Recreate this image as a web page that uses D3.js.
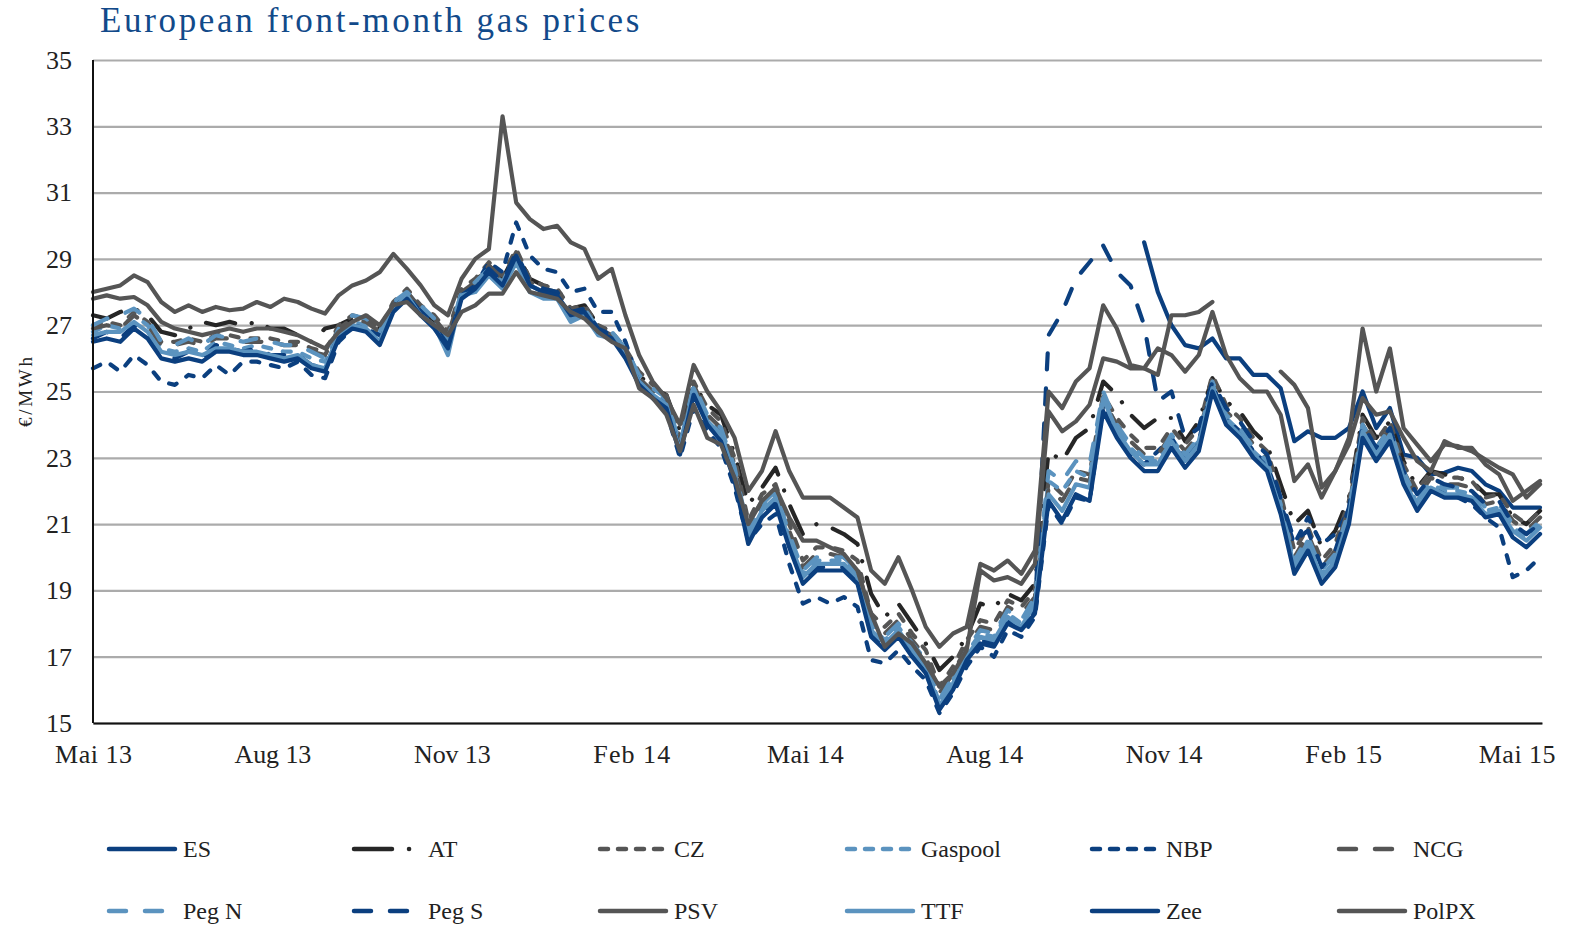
<!DOCTYPE html>
<html>
<head>
<meta charset="utf-8">
<script src="https://cdnjs.cloudflare.com/ajax/libs/d3/7.8.5/d3.min.js"></script>
<style>
  body { margin: 0; background: #fff; }
  text { font-family: "Liberation Serif", "DejaVu Serif", serif; fill: #222; }
</style>
</head>
<body>
<div id="my_dataviz"></div>
<script>
// weekly observations, first one on 1 May 2013
var firstDay = new Date(2013, 4, 1)
var lastDay = new Date(2015, 4, 14)

var tickDates = [new Date(2013,4,1), new Date(2013,7,1), new Date(2013,10,1), new Date(2014,1,1),
  new Date(2014,4,1), new Date(2014,7,1), new Date(2014,10,1), new Date(2015,1,1), new Date(2015,4,1)]
var tickLabels = ["Mai 13","Aug 13","Nov 13","Feb 14","Mai 14","Aug 14","Nov 14","Feb 15","Mai 15"]
var yTicks = [15,17,19,21,23,25,27,29,31,33,35]

var ES = [null,null,null,null,null,null,null,null,null,null,
  null,null,null,null,null,null,null,null,null,null,
  null,null,null,null,null,null,null,null,null,null,
  null,null,null,null,null,null,null,null,null,null,
  null,null,null,null,null,null,null,null,null,null,
  null,null,null,null,null,null,null,null,null,null,
  null,null,null,null,null,null,null,null,null,null,
  null,null,null,null,null,null,null,29.5,28.0,27.0,
  26.4,26.3,26.6,26.0,26.0,25.5,25.5,25.1,23.5,23.8,
  23.6,23.6,23.9,25.0,23.9,24.5,23.1,23.0,22.5,22.55,
  22.7,22.6,22.2,22.0,21.5,21.5,21.5]

var AT = [27.3,27.2,27.4,27.5,27.3,26.8,26.7,26.9,27.1,27.0,
  27.1,27.0,27.1,26.9,26.9,26.7,26.5,26.9,27.0,27.2,
  27.3,26.9,27.6,27.9,27.5,27.1,26.6,27.9,28.3,28.8,
  28.4,29.2,28.4,28.2,28.1,27.5,27.6,27.0,26.8,26.2,
  25.5,25.1,24.9,23.8,25.2,24.6,24.3,23.1,21.6,22.1,
  22.7,21.6,20.7,21.0,20.9,20.7,20.4,18.9,18.2,18.6,
  18.0,17.4,16.6,17.0,17.6,18.6,18.5,18.9,18.7,19.2,
  23.2,22.9,23.6,23.9,25.3,24.9,24.3,23.9,24.2,24.2,
  23.5,24.1,25.4,24.7,24.4,23.8,23.4,22.2,21.0,21.4,
  20.3,20.8,21.8,24.3,23.6,24.1,22.9,22.1,22.6,22.5,
  22.4,22.3,21.9,21.9,21.2,21.0,21.4]

var CZ = [27.0,27.1,27.0,27.4,27.1,26.5,26.5,26.6,26.5,26.7,
  26.7,26.6,26.6,26.6,26.5,26.5,26.3,26.2,27.0,27.3,
  27.2,26.9,27.7,28.1,27.6,27.3,26.8,28.1,28.4,28.9,
  28.5,29.3,28.4,28.2,28.1,27.5,27.6,27.0,26.8,26.3,
  25.6,25.2,24.9,23.6,25.3,24.5,24.1,23.0,21.1,21.9,
  22.2,21.0,19.9,20.3,20.3,20.2,19.9,18.3,17.9,18.3,
  17.7,17.2,16.1,16.7,17.5,18.1,18.0,18.7,18.5,19.0,
  22.3,21.9,22.6,22.5,24.9,24.2,23.7,23.3,23.3,23.9,
  23.4,23.9,25.5,24.6,24.2,23.6,23.2,21.9,20.2,20.9,
  19.9,20.4,21.7,24.2,23.5,24.1,22.8,22.0,22.6,22.4,
  22.4,22.3,21.8,21.9,21.3,21.0,21.4]

var Gaspool = [26.8,27.0,26.9,27.3,27.0,26.3,26.2,26.3,26.2,26.5,
  26.4,26.3,26.4,26.3,26.2,26.2,26.0,25.9,26.8,27.1,
  27.0,26.7,27.6,28.0,27.5,27.1,26.5,28.0,28.2,28.6,
  28.2,29.0,28.1,27.9,27.9,27.2,27.4,26.8,26.7,26.2,
  25.4,25.0,24.7,23.3,25.1,24.2,23.8,22.6,20.7,21.5,
  21.9,20.6,19.5,19.9,19.9,19.9,19.5,17.9,17.5,17.9,
  17.3,16.8,15.6,16.3,17.1,17.7,17.6,18.3,18.0,18.7,
  22.3,22.0,22.6,22.4,24.9,23.9,23.3,22.9,22.9,23.6,
  23.0,23.5,25.2,24.2,23.8,23.2,22.8,21.5,19.8,20.5,
  19.5,20.0,21.3,23.9,23.2,23.8,22.5,21.6,22.2,22.0,
  22.0,21.9,21.4,21.5,20.9,20.6,21.0]

var NBP = [25.7,25.9,25.6,26.1,25.8,25.3,25.2,25.5,25.4,25.8,
  25.5,25.9,25.9,25.8,25.7,25.9,25.5,25.4,26.5,26.9,
  26.9,26.7,27.6,27.9,27.5,27.0,26.5,27.9,28.2,28.9,
  28.6,30.1,29.1,28.7,28.6,28.0,28.1,27.4,27.4,26.5,
  25.3,24.8,24.4,23.0,24.5,23.8,23.3,22.1,20.5,21.0,
  21.3,19.8,18.6,18.8,18.6,18.8,18.5,16.9,16.8,17.2,
  16.7,16.3,15.3,15.9,16.7,17.3,17.0,17.8,17.6,18.2,
  21.6,21.0,21.8,21.7,24.6,23.7,23.1,22.8,23.2,23.6,
  22.9,23.5,25.2,24.2,23.8,23.2,22.8,21.6,20.4,21.2,
  20.4,20.7,21.4,23.8,23.0,23.6,22.3,21.5,22.1,21.9,
  21.8,21.6,21.2,20.9,19.4,19.6,20.0]

var NCG = [26.9,27.0,26.9,27.3,27.0,26.4,26.4,26.5,26.4,26.6,
  26.6,26.5,26.5,26.5,26.4,26.4,26.2,26.1,26.9,27.2,
  27.1,26.8,27.6,28.0,27.5,27.2,26.7,28.0,28.3,28.8,
  28.4,29.2,28.3,28.1,28.0,27.4,27.5,26.9,26.7,26.2,
  25.4,25.0,24.7,23.4,25.2,24.3,23.9,22.8,20.9,21.7,
  22.0,20.8,19.7,20.1,20.1,20.0,19.7,18.1,17.7,18.1,
  17.5,17.0,15.9,16.5,17.3,17.9,17.8,18.5,18.3,18.8,
  22.1,21.7,22.4,22.3,24.7,24.0,23.5,23.1,23.1,23.7,
  23.2,23.7,25.3,24.4,24.0,23.4,23.0,21.7,20.0,20.7,
  19.7,20.2,21.5,24.0,23.3,23.9,22.6,21.8,22.4,22.2,
  22.2,22.1,21.6,21.7,21.1,20.8,21.2]

var PegN = [27.0,27.2,27.3,27.5,27.2,26.5,26.4,26.6,26.4,26.7,
  26.6,26.5,26.6,26.5,26.4,26.4,26.2,26.0,26.9,27.3,
  27.2,26.8,27.7,28.0,27.6,27.2,26.6,28.0,28.3,28.7,
  28.3,29.1,28.2,28.0,27.9,27.3,27.5,26.9,26.8,26.3,
  25.5,25.1,24.8,23.4,25.2,24.3,23.9,22.7,20.8,21.6,
  22.0,20.7,19.6,20.0,20.0,20.0,19.6,18.0,17.6,18.0,
  17.4,16.9,15.7,16.4,17.2,17.8,17.7,18.4,18.1,18.8,
  22.6,22.3,22.9,22.8,25.0,24.0,23.4,23.0,23.0,23.7,
  23.1,23.6,25.3,24.3,23.9,23.3,22.9,21.6,19.9,20.6,
  19.6,20.1,21.4,24.0,23.3,23.9,22.6,21.7,22.3,22.1,
  22.1,22.0,21.5,21.6,21.0,20.7,21.1]

var PegS = [26.6,26.8,26.6,27.0,26.8,26.1,26.0,26.2,26.0,26.4,
  26.3,26.2,26.3,26.1,26.1,26.1,25.8,25.7,26.7,27.0,
  26.9,26.5,27.5,27.9,27.4,27.0,26.4,27.9,28.2,28.7,
  28.3,29.2,28.3,28.1,28.0,27.4,27.5,26.9,26.7,26.1,
  25.3,24.9,24.6,23.2,25.0,24.1,23.6,22.4,20.5,21.3,
  21.7,20.4,19.3,19.7,19.7,19.7,19.3,17.7,17.3,17.7,
  17.1,16.6,15.5,16.1,16.9,17.5,17.4,18.1,17.9,18.4,
  26.7,27.4,28.4,28.9,29.4,28.6,28.2,27.0,24.7,25.0,
  23.6,23.9,25.3,24.5,24.1,23.5,23.1,21.8,20.5,20.8,
  19.7,20.2,21.5,24.0,23.3,23.9,22.6,21.9,22.4,22.2,
  22.1,22.0,21.6,21.7,21.0,20.7,21.0]

var PSV = [28.0,28.1,28.2,28.5,28.3,27.7,27.4,27.6,27.4,27.55,
  27.45,27.5,27.7,27.55,27.8,27.7,27.5,27.35,27.9,28.2,
  28.35,28.6,29.15,28.7,28.2,27.6,27.3,28.4,29.0,29.3,
  33.3,30.7,30.2,29.9,30.0,29.5,29.3,28.4,28.7,27.3,
  26.1,25.3,24.8,24.0,25.8,25.0,24.4,23.6,22.0,22.6,
  23.8,22.6,21.8,21.8,21.8,21.5,21.2,19.6,19.2,20.0,
  19.0,17.9,17.3,17.7,17.9,19.8,19.6,19.9,19.5,20.2,
  25.0,24.5,25.3,25.7,27.6,26.9,25.8,25.7,25.5,27.3,
  27.3,27.4,27.7,null,null,null,null,25.6,25.2,24.5,
  22.1,22.6,23.6,26.9,25.0,26.3,23.9,23.4,22.9,23.4,
  23.35,23.2,22.95,22.7,22.5,21.8,22.2]

var TTF = [26.7,26.8,26.8,27.1,26.8,26.2,26.1,26.2,26.1,26.3,
  26.3,26.2,26.2,26.1,26.0,26.1,25.8,25.7,26.7,27.0,
  26.9,26.5,27.5,27.9,27.3,27.0,26.1,27.9,28.0,28.5,
  28.1,28.9,28.0,27.8,27.8,27.1,27.3,26.7,26.6,26.1,
  25.3,24.9,24.6,23.2,25.1,24.1,23.7,22.5,20.6,21.4,
  21.8,20.5,19.4,19.8,19.8,19.8,19.4,17.8,17.4,17.8,
  17.2,16.7,15.5,16.2,17.0,17.6,17.5,18.2,17.9,18.6,
  21.9,21.4,22.2,22.1,24.8,23.8,23.2,22.8,22.8,23.5,
  22.9,23.4,25.1,24.1,23.7,23.1,22.7,21.4,19.7,20.4,
  19.4,19.9,21.2,23.8,23.1,23.7,22.4,21.5,22.1,21.9,
  21.9,21.8,21.3,21.4,20.8,20.5,20.9]

var Zee = [26.5,26.6,26.5,26.9,26.6,26.0,25.9,26.0,25.9,26.2,
  26.2,26.1,26.1,26.0,25.9,26.0,25.7,25.6,26.6,26.9,
  26.8,26.4,27.4,27.8,27.3,26.9,26.3,27.8,28.1,28.6,
  28.2,29.1,28.2,28.0,27.9,27.3,27.4,26.8,26.6,26.0,
  25.2,24.8,24.5,23.1,24.9,24.0,23.5,22.3,20.4,21.2,
  21.6,20.3,19.2,19.6,19.6,19.6,19.2,17.6,17.2,17.6,
  17.0,16.5,15.4,16.0,16.9,17.4,17.3,18.0,17.8,18.3,
  21.7,21.1,21.9,21.7,24.4,23.6,23.0,22.6,22.6,23.3,
  22.7,23.2,25.0,24.0,23.6,23.0,22.6,21.3,19.5,20.2,
  19.2,19.7,21.0,23.6,22.9,23.5,22.2,21.4,22.0,21.8,
  21.8,21.7,21.2,21.3,20.6,20.3,20.7]

var PolPX = [27.8,27.9,27.8,27.85,27.6,27.1,26.9,26.8,26.7,26.8,
  26.9,26.8,26.9,26.9,26.8,26.7,26.5,26.3,26.8,27.1,
  27.3,27.0,27.6,27.7,27.3,27.0,26.7,27.4,27.6,27.95,
  27.95,28.6,28.0,27.9,27.8,27.4,27.2,26.8,26.5,26.3,
  25.1,24.8,24.3,23.2,24.6,23.6,23.4,22.4,21.0,21.7,
  22.1,21.2,20.5,20.5,20.3,20.1,19.6,18.3,17.3,17.7,
  17.4,16.8,16.1,16.5,17.2,19.6,19.3,19.4,19.2,19.8,
  24.4,23.8,24.1,24.6,26.0,25.9,25.7,25.7,26.3,26.1,
  25.6,26.1,27.4,26.1,25.4,25.0,25.0,24.3,22.3,22.8,
  21.8,22.6,23.4,24.8,24.3,24.4,23.6,22.9,22.6,23.5,
  23.3,23.3,22.8,22.5,21.7,22.0,22.3]

var seriesNames = ["ES","AT","CZ","Gaspool","NBP","NCG","Peg N","Peg S","PSV","TTF","Zee","PolPX"]
var seriesValues = [ES, AT, CZ, Gaspool, NBP, NCG, PegN, PegS, PSV, TTF, Zee, PolPX]

// colours and dashes per series
var darkBlue = "#0b3f7f", lightBlue = "#5b93bf", darkGrey = "#555555", black = "#262626"
var styles = {
  "ES":      {color: darkBlue,  dash: null},
  "AT":      {color: black,     dash: "30,17,0.1,17"},
  "CZ":      {color: darkGrey,  dash: "8,12"},
  "Gaspool": {color: lightBlue, dash: "8,12"},
  "NBP":     {color: darkBlue,  dash: "8,12"},
  "NCG":     {color: darkGrey,  dash: "16,19"},
  "Peg N":   {color: lightBlue, dash: "16,19"},
  "Peg S":   {color: darkBlue,  dash: "16,19"},
  "PSV":     {color: darkGrey,  dash: null},
  "TTF":     {color: lightBlue, dash: null},
  "Zee":     {color: darkBlue,  dash: null},
  "PolPX":   {color: darkGrey,  dash: null}
}

// set the dimensions and margins of the graph
var margin = {top: 60, right: 28, bottom: 203, left: 93},
    width = 1570 - margin.left - margin.right,
    height = 926 - margin.top - margin.bottom;

var root = d3.select("#my_dataviz")
  .append("svg")
    .attr("width", width + margin.left + margin.right)
    .attr("height", height + margin.top + margin.bottom)

var svg = root.append("g")
    .attr("transform", "translate(" + margin.left + "," + margin.top + ")")

// spread the letters a bit, the original font is monospaced
function spread(sel, perChar) {
  sel.attr("textLength", function() { return this.textContent.length * perChar })
     .attr("lengthAdjust", "spacing")
}

// title
root.append("text")
    .attr("x", 100)
    .attr("y", 32)
    .style("font-size", "35px")
    .style("fill", "#124a8a")
    .text("European front-month gas prices")
    .call(spread, 17.4)

var weeks = d3.timeDay.range(firstDay, lastDay, 7)

// X scale
var x = d3.scaleTime()
  .domain([firstDay, lastDay])
  .range([0, width])

// Y scale + grid
var y = d3.scaleLinear()
  .domain([15, 35])
  .range([height, 0])

var yAxis = svg.append("g")
  .call(d3.axisLeft(y).tickValues(yTicks).tickSize(-width).tickPadding(21))
yAxis.select(".domain").remove()
yAxis.selectAll(".tick line")
  .attr("stroke", "#ababab")
  .attr("stroke-width", 2.2)
yAxis.selectAll(".tick text")
  .style("font-size", "26px")
  .style("font-family", "Liberation Serif")
  .attr("fill", "#222")

// y label
root.append("text")
    .attr("transform", "translate(32,392) rotate(-90)")
    .attr("text-anchor", "middle")
    .style("font-size", "19px")
    .text("€/MWh")
    .call(spread, 14)

// lines
var line = d3.line()
  .defined(function(d) { return d.v != null })
  .x(function(d) { return x(d.date) })
  .y(function(d) { return y(d.v) })

seriesNames.forEach(function(name, k) {
  var pts = weeks.map(function(d, i) { return {date: d, v: seriesValues[k][i]} })
  var st = styles[name]
  svg.append("path")
    .datum(pts)
    .attr("fill", "none")
    .attr("stroke", st.color)
    .attr("stroke-width", 4.2)
    .attr("stroke-linejoin", "round")
    .attr("stroke-linecap", "round")
    .attr("stroke-dasharray", st.dash)
    .attr("d", line)
})

// axis lines
svg.append("line")
  .attr("x1", 0).attr("x2", 0).attr("y1", 0).attr("y2", height)
  .attr("stroke", "#111").attr("stroke-width", 2)

var xAxis = svg.append("g")
  .attr("transform", "translate(0," + height + ")")
  .call(d3.axisBottom(x).tickValues(tickDates)
        .tickFormat(function(d, i) { return tickLabels[i] }).tickSize(0))
xAxis.select(".domain")
  .attr("stroke", "#111").attr("stroke-width", 2.2)
xAxis.selectAll(".tick text")
  .attr("y", 40).attr("dy", null)
  .style("font-size", "26px")
  .style("font-family", "Liberation Serif")
  .attr("fill", "#222")
  .call(spread, 12.8)

// legend
var legCols = [107, 352, 598, 845, 1090, 1337], legRows = [849, 911]
var legDash = {"AT": "38,17,0.1,30", "CZ": "8,10", "Gaspool": "8,10", "NBP": "8,10",
  "NCG": "17,19", "Peg N": "17,19", "Peg S": "17,19"}
seriesNames.forEach(function(name, k) {
  var cx = legCols[k % 6], cy = legRows[Math.floor(k / 6)]
  var st = styles[name]
  root.append("line")
    .attr("x1", cx + 2).attr("x2", cx + 68)
    .attr("y1", cy).attr("y2", cy)
    .attr("stroke", st.color)
    .attr("stroke-width", 4.5)
    .attr("stroke-linecap", "round")
    .attr("stroke-dasharray", legDash[name] || null)
  root.append("text")
    .attr("x", cx + 76)
    .attr("y", cy + 8)
    .style("font-size", "24px")
    .text(name)
})
</script>
</body>
</html>
